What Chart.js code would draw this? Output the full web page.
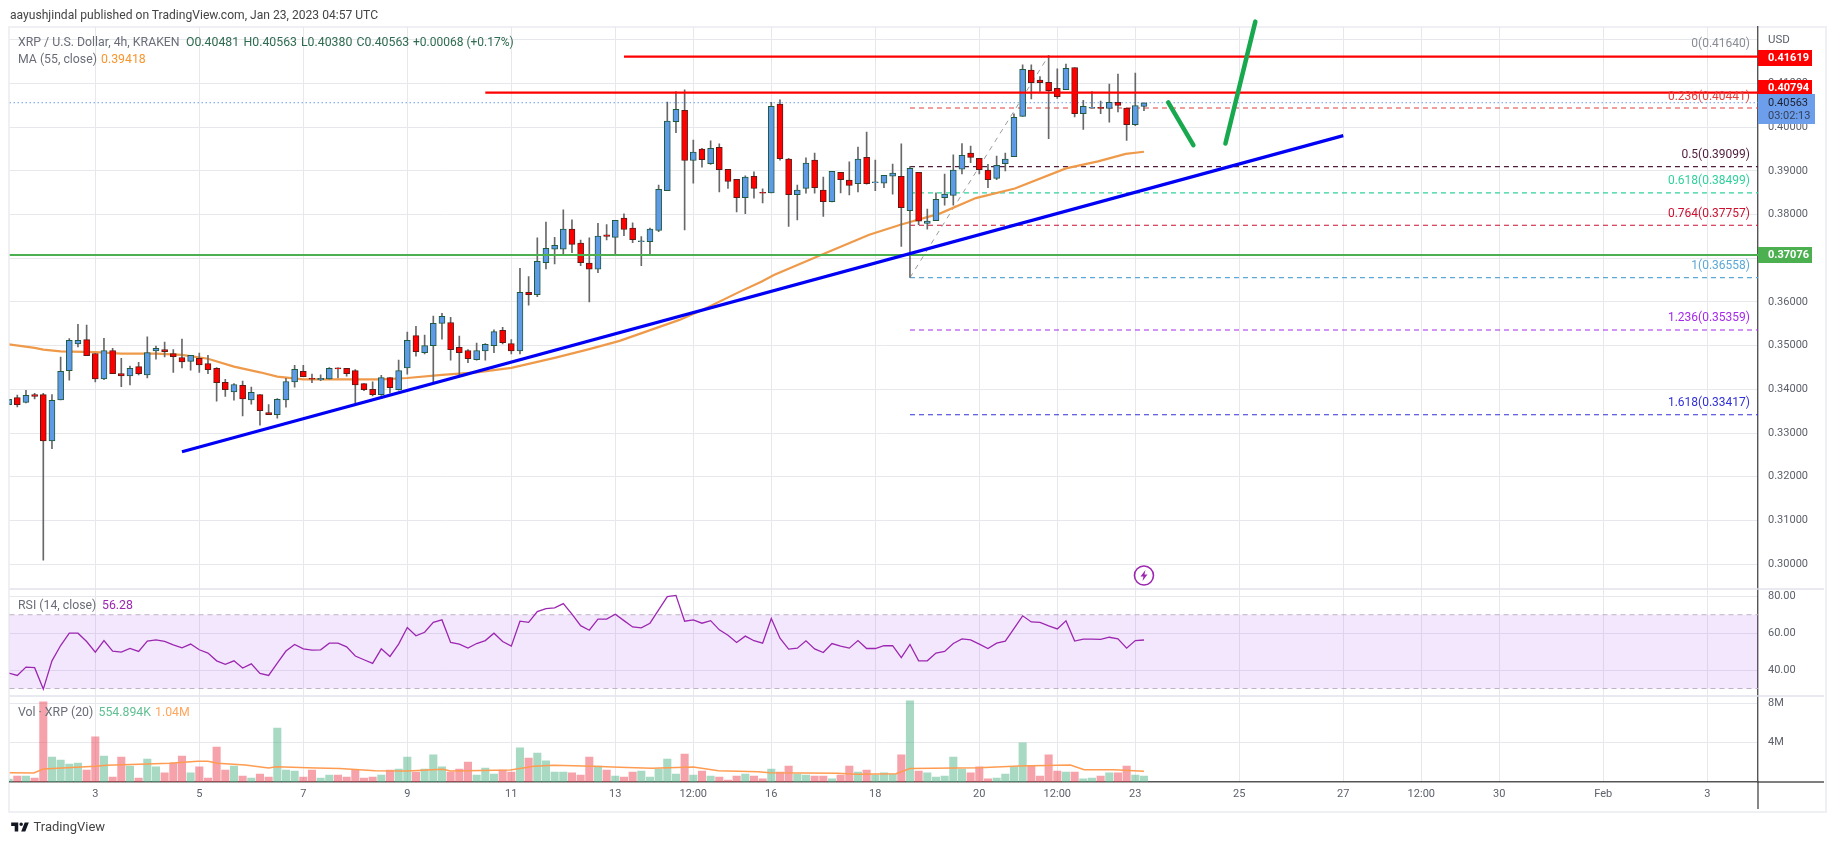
<!DOCTYPE html>
<html><head><meta charset="utf-8">
<style>
html,body{margin:0;padding:0;background:#fff;width:1834px;height:845px;overflow:hidden}
body{font-family:Roboto,"Liberation Sans",sans-serif}
#c{position:absolute;left:0;top:0}
#frame{position:absolute;left:8px;top:26px;width:1815px;height:783px;border:2px solid #eef0f4;box-sizing:content-box}
.t{position:absolute;white-space:nowrap;font-size:12.3px;line-height:14px;transform:translateY(-50%)}
</style></head><body>
<div id="frame"></div>
<canvas id="c" width="1834" height="845"></canvas>
<div class="t" style="left:10px;top:15px;color:#444;font-size:12.1px">aayushjindal published on TradingView.com, Jan 23, 2023 04:57 UTC</div>
<div class="t" style="left:18px;top:42px;color:#6a6d78">XRP / U.S. Dollar, 4h, KRAKEN</div>
<div class="t" style="left:186px;top:42px;color:#2f6b50">O0.40481</div>
<div class="t" style="left:243.5px;top:42px;color:#2f6b50">H0.40563</div>
<div class="t" style="left:301px;top:42px;color:#2f6b50">L0.40380</div>
<div class="t" style="left:356.5px;top:42px;color:#2f6b50">C0.40563</div>
<div class="t" style="left:413px;top:42px;color:#2f6b50;font-size:12px">+0.00068 (+0.17%)</div>
<div class="t" style="left:18px;top:59px;color:#6a6d78">MA (55, close)</div>
<div class="t" style="left:101px;top:59px;color:#f7962f">0.39418</div>
<div class="t" style="left:18px;top:605px;color:#6a6d78">RSI (14, close)</div>
<div class="t" style="left:102px;top:605px;color:#9c27b0">56.28</div>
<div class="t" style="left:18px;top:712px;color:#6a6d78">Vol · XRP (20)</div>
<div class="t" style="left:98.5px;top:712px;color:#5fbf92">554.894K</div>
<div class="t" style="left:155px;top:712px;color:#ffa65c">1.04M</div>
<svg style="position:absolute;left:10px;top:821px" width="20" height="12" viewBox="0 4 34 19"><path fill="#131722" d="M14 6H2v6h6v9h6V6Zm12 15h-7l6-15h7l-6 15Zm-7-9a3 3 0 1 0 0-6 3 3 0 0 0 0 6Z"/></svg>
<div class="t" style="left:33.5px;top:827px;color:#444;font-size:13px">TradingView</div>
<script src="https://cdn.jsdelivr.net/npm/chart.js@4"></script>
<script>
const firstBar = -10;
const opens = [
.3365,.3381,.3370,.3388,.3388,.3282,.3376,.3443,.3504,.3514,
.3482,.3424,.3489,.3436,.3431,.3452,.3433,.3488,.3491,.3482,
.3473,.3464,.3471,.3459,.3448,.3416,.3394,.3409,.3376,.3388,
.3347,.3342,.3376,.3417,.3441,.3425,.3422,.3424,.3449,.3448,
.3443,.3413,.3400,.3388,.3427,.3399,.3449,.3523,.3484,.3500,
.3551,.3553,.3496,.3489,.3468,.3488,.3500,.3535,.3505,.3488,
.3622,.3617,.3690,.3721,.3721,.3767,.3735,.3689,.3675,.3754,
.3748,.3792,.3769,.3738,.3738,.3764,.3855,.4013,.4039,.3924,
.3950,.3917,.3954,.3904,.3881,.3839,.3888,.3851,.3850,.4053,
.3927,.3846,.3860,.3925,.3856,.3830,.3897,.3879,.3871,.3931,
.3873,.3872,.3888,.3888,.3809,.3897,.3780,.3786,.3839,.3844,
.3904,.3941,.3929,.3902,.3883,.3917,.3933,.4025,.4131,.4108,
.4103,.4089,.4086,.4137,.4031,.4044,.4046,.4043,.4057,.4044,
.4006,.4048];
const highs = [
.3377,.3387,.3398,.3391,.3391,.3388,.3474,.3516,.3549,.3547,
.3482,.3517,.3494,.3471,.3453,.3462,.3520,.3499,.3508,.3491,
.3515,.3478,.3483,.3478,.3450,.3423,.3413,.3419,.3405,.3388,
.3365,.3379,.3425,.3455,.3455,.3435,.3433,.3450,.3449,.3448,
.3445,.3413,.3417,.3432,.3427,.3467,.3531,.3544,.3524,.3568,
.3574,.3565,.3522,.3491,.3506,.3505,.3536,.3542,.3514,.3677,
.3658,.3747,.3783,.3748,.3811,.3788,.3742,.3747,.3780,.3777,
.3787,.3802,.3781,.3750,.3769,.3868,.4058,.4082,.4086,.3971,
.3952,.3969,.3962,.3904,.3881,.3889,.3898,.3859,.4057,.4063,
.3929,.3868,.3930,.3941,.3886,.3899,.3897,.3921,.3955,.3989,
.3925,.3890,.3916,.3962,.3910,.3897,.3813,.3850,.3893,.3937,
.3963,.3957,.3929,.3915,.3934,.3941,.4031,.4143,.4143,.4116,
.4164,.4134,.4145,.4137,.4062,.4082,.4060,.4099,.4122,.4044,
.4124,.4056];
const lows = [
.3365,.3360,.3369,.3378,.3009,.3264,.3376,.3421,.3497,.3477,
.3417,.3422,.3436,.3406,.3410,.3433,.3426,.3469,.3474,.3439,
.3449,.3444,.3439,.3436,.3373,.3384,.3375,.3339,.3366,.3318,
.3342,.3334,.3359,.3405,.3429,.3415,.3420,.3423,.3426,.3430,
.3368,.3397,.3385,.3386,.3391,.3398,.3435,.3476,.3481,.3415,
.3515,.3467,.3429,.3461,.3467,.3467,.3484,.3504,.3481,.3481,
.3593,.3612,.3676,.3687,.3708,.3713,.3683,.3600,.3667,.3742,
.3708,.3752,.3736,.3683,.3708,.3761,.3855,.3988,.3765,.3872,
.3909,.3915,.3852,.3860,.3806,.3802,.3838,.3827,.3850,.3925,
.3773,.3788,.3849,.3849,.3796,.3829,.3850,.3845,.3852,.3870,
.3855,.3862,.3847,.3727,.3656,.3777,.3767,.3786,.3822,.3822,
.3893,.3919,.3893,.3862,.3880,.3900,.3933,.4025,.4065,.4082,
.3974,.4066,.4086,.4024,.3995,.4044,.4031,.4012,.4035,.3970,
.4004,.4038];
const closes = [
.3377,.3365,.3386,.3384,.3282,.3375,.3441,.3512,.3512,.3477,
.3424,.3489,.3436,.3431,.3448,.3436,.3484,.3494,.3486,.3475,
.3463,.3478,.3456,.3445,.3415,.3399,.3411,.3378,.3393,.3351,
.3342,.3377,.3418,.3446,.3429,.3423,.3425,.3448,.3447,.3436,
.3410,.3399,.3388,.3427,.3404,.3443,.3512,.3486,.3500,.3551,
.3567,.3491,.3484,.3470,.3489,.3503,.3532,.3507,.3488,.3622,
.3617,.3693,.3723,.3730,.3767,.3732,.3690,.3675,.3751,.3750,
.3787,.3766,.3743,.3740,.3767,.3858,.4014,.4041,.3924,.3943,
.3926,.3952,.3903,.3876,.3839,.3886,.3860,.3849,.4048,.3928,
.3846,.3856,.3918,.3862,.3830,.3899,.3880,.3867,.3927,.3871,
.3875,.3890,.3895,.3816,.3906,.3785,.3785,.3835,.3847,.3902,
.3936,.3931,.3903,.3880,.3913,.3927,.4023,.4133,.4102,.4102,
.4084,.4070,.4135,.4031,.4048,.4046,.4043,.4057,.4050,.4006,
.4050,.4056];
const rsiValues = [
38.4,37.1,41.6,41.3,29.7,45.0,53.3,60,60,55.5,
49.7,56,50.3,49.7,51.7,50.1,55.7,56.4,55.5,53.7,
52.1,54.1,51,49.2,45,43.1,45,41.1,43.4,38.2,
37.1,43.8,50.3,53.9,51.5,50.8,51,54.6,54.6,52.6,
47.6,45.6,43.6,51.5,47.4,54.1,63.1,58.6,60.5,65.9,
67.2,55,54.1,51.9,54.4,56,60,55.5,53,66.5,
65.9,71.7,73.3,73.7,76,70.3,64.1,61.6,67.6,67.6,
70.3,66.8,63.4,62.9,65.4,72.6,79.8,80.5,66.5,67.2,
65.4,66.8,61.8,58.9,55,58.4,55.9,54.6,67.9,57.3,
51.4,51.9,55.9,51.5,49.5,54.4,53,51.9,56,51.7,
51.7,53.2,53.3,46.7,53.9,45,45,49.2,50.1,54.4,
56.9,56.4,54.1,51.7,54.6,55.7,62.5,69.4,66.1,65.9,
64,62.3,66.7,55.7,56.8,56.8,56.6,57.8,56.9,51.9,
56,56.3];
const volumes = [
.3,.61,.61,.41,8.14,2.54,2.24,1.83,1.93,1.22,
4.58,2.64,.51,2.54,1.63,.41,2.34,1.53,.92,1.93,
2.64,.92,1.53,.41,3.56,1.22,1.63,.61,.41,.81,
.51,5.49,1.22,1.12,.51,1.22,.41,.71,.71,.51,
1.29,.41,.51,.71,1.22,1.32,2.54,1.02,1.32,2.75,
1.53,1.02,1.32,2.03,.71,1.42,.81,1.22,1.02,3.46,
2.44,2.95,2.14,1.02,1.02,.92,.71,2.54,1.63,1.22,
.61,.51,1.02,1.12,.51,1.32,2.34,.81,2.85,.71,
1.12,.61,.51,.2,.61,.81,.61,.31,1.32,1.02,
1.63,.81,.71,.61,.61,.31,.71,1.63,1.02,1.22,
.71,.92,.81,2.75,8.24,1.12,.92,.51,.61,2.54,
1.32,.92,1.53,.31,.41,.81,1.53,3.97,1.63,.61,
2.75,1.12,1.02,1.02,.31,.41,.61,.92,.92,1.63,
.71,.61];
const maBars = [-10,-7,-6,-4,0,3,7,10,13,16,19,21,24,30,33,36,40,44,48,53,57,60.5,67.4,70.1,74.2,76.9,78.3,83.8,89.3,92.9,97.5,101.6,106.1,112,115.7,118.9,121];
const maValues = [.3503,.3495,.3491,.3487,.3485,.3482,.3482,.3479,.3470,.3452,.3439,.3429,.3423,.3423,.3423,.3426,.3433,.3439,.3449,.3472,.3492,.3511,.3559,.3582,.3622,.3647,.3662,.3708,.3754,.3777,.3803,.3838,.3860,.3906,.3922,.3939,.3944];
const volMaBars = [-9.9,-7.1,-6,0,1.3,5,8.6,11.8,13,14.1,17.3,20,20.9,25.5,28.2,32.3,36,40.1,41,47.9,50.6,52.9,57.4,60.5,64.2,69,71.9,76.5,77.8,85.6,87.9,92.4,94,102,106.6,112.5,114.1,117.5,121];
const volMaValues = [.95,.92,1.32,1.59,1.69,1.8,1.9,2.1,2.1,1.9,1.73,1.42,1.56,1.42,1.36,1.15,1.12,1.29,1.12,1.22,1.59,1.69,1.59,1.49,1.39,1.53,1.15,1.05,.95,.88,.78,.85,1.36,1.46,1.63,1.73,1.25,1.25,1.1];
const xTickBars = [0,12,24,36,48,60,69,78,90,102,111,120,132,144,153,162,174,186];
const xTickLabels = ["3","5","7","9","11","13","12:00","16","18","20","12:00","23","25","27","12:00","30","Feb","3"];
const priceTicks = [.30,.31,.32,.33,.34,.35,.36,.37,.38,.39,.40,.41,.42];
const rsiTicks = [40,60,80];
const volTicks = [4,8];
const xMin = -9.9, xMax = 191.85;
const trendBars = [10,144], trendPrices = [.3257,.3981];
const arrowDownBars = [123.8,126.7], arrowDownPrices = [.4057,.3959];
const arrowUpBars = [130.4,133.85], arrowUpPrices = [.3963,.4242];
const resist1 = .41619, resist1Start = 61, resist2 = .40794, resist2Start = 45;
const support = .37076, lastPrice = .40563;
const fibStart = 94, fibEndDiag = 110;
const fibLevels = [
 ["0(0.41640)",.41640,"#8a8d96"],["0.236(0.40441)",.40441,"#e0403f"],
 ["0.5(0.39099)",.39099,"#4f1c3c"],["0.618(0.38499)",.38499,"#2fd29c"],
 ["0.764(0.37757)",.37757,"#cc1030"],["1(0.36558)",.36558,"#5ba8d8"],
 ["1.236(0.35359)",.35359,"#a428ea"],["1.618(0.33417)",.33417,"#3030d8"]];
// each tag: text, price, colour, offset of the box top above the price line
const priceTags = [["0.41619",.41619,"#ff0000",7],["0.40794",.40794,"#ff0000",13],["0.37076",.37076,"#4caf50",8]];

const barIdx = opens.map((_,i)=>firstBar+i);
const pts = (xs,ys)=>xs.map((x,i)=>({x,y:ys[i]}));
const line = (xs,ys,color,width,order,extra={})=>Object.assign({type:'line',data:pts(xs,ys),borderColor:color,borderWidth:width,pointRadius:0,tension:0,order,yAxisID:'y'},extra);
const isUp = i=>closes[i]>=opens[i];

// the 0 level sits under the upper resistance line, so only its label shows
const fibDatasets = fibLevels.slice(1).map(f=>line([fibStart,xMax],[f[1],f[1]],f[2],1.1,9,{borderDash:[5,4]}));

const datasets = [
 ...fibDatasets,
 line([xMin,xMax],[lastPrice,lastPrice],'#6aa0ee',1,9,{borderDash:[1.5,2.5]}),
 line([fibStart,fibEndDiag],[fibLevels[5][1],fibLevels[0][1]],'#9a9a9a',1,9,{borderDash:[5,5]}),
 line(maBars,maValues,'#ef9a4a',2.2,8),
 {type:'bar',grouped:false,order:7,yAxisID:'y',barThickness:1,backgroundColor:'#686868',
  data:barIdx.map((x,i)=>({x,y:[lows[i],highs[i]]}))},
 {type:'bar',grouped:false,order:6,yAxisID:'y',barThickness:6,borderWidth:1,borderSkipped:false,
  backgroundColor:barIdx.map((_,i)=>isUp(i)?'#5f9ae6':'#ff0000'),
  borderColor:barIdx.map((_,i)=>isUp(i)?'#1f5a40':'#5e1a14'),
  data:barIdx.map((x,i)=>({x,y:[opens[i],closes[i]]}))},
 line([xMin,xMax],[support,support],'#4caf50',2.2,4),
 line([resist2Start,xMax],[resist2,resist2],'#ff0000',2.2,4),
 line([resist1Start,xMax],[resist1,resist1],'#ff0000',2.2,4),
 line(trendBars,trendPrices,'#0000f5',3.2,3),
 line(arrowDownBars,arrowDownPrices,'#18a84e',4.5,2,{borderCapStyle:'round',clip:false}),
 line(arrowUpBars,arrowUpPrices,'#18a84e',4.5,2,{borderCapStyle:'round',clip:false}),
 line(barIdx,rsiValues,'#9c27b0',1.3,5,{yAxisID:'yRsi'}),
 {type:'bar',grouped:false,order:6,yAxisID:'yVol',barThickness:7.4,
  backgroundColor:barIdx.map((_,i)=>isUp(i)?'rgba(80,180,135,.5)':'rgba(235,70,85,.5)'),
  data:barIdx.map((x,i)=>({x,y:volumes[i]}))},
 line(volMaBars,volMaValues,'#ff9c52',1.5,5,{yAxisID:'yVol'})
];

const gridColor='#e7e8ec', labelColor='#5d606b', axisColor='#555';
const tickFont={family:'Roboto,"Liberation Sans",sans-serif',size:11};
const yCommon=(w,ticks,cb,min,max)=>({
 position:'right',stack:'side',stackWeight:w,min,max,
 grid:{color:gridColor,drawTicks:false,lineWidth:1},
 border:{color:axisColor,width:1.4},
 afterBuildTicks:s=>{s.ticks=ticks.map(value=>({value}))},
 afterFit:s=>{s.width=66},
 ticks:{color:labelColor,font:tickFont,padding:10,callback:cb,autoSkip:false}
});

const overlay={id:'overlay',
 beforeDatasetsDraw(ch){
  const c=ch.ctx,a=ch.chartArea,r=ch.scales.yRsi;
  const y70=r.getPixelForValue(70),y30=r.getPixelForValue(30);
  c.save();
  c.fillStyle='rgba(155,60,235,.12)';c.fillRect(a.left,y70,a.right-a.left,y30-y70);
  c.strokeStyle='#bdb2c4';c.lineWidth=1;c.setLineDash([5,4]);
  [y70,y30].forEach(y=>{c.beginPath();c.moveTo(a.left,y);c.lineTo(a.right,y);c.stroke()});
  c.restore();
 },
 afterDraw(ch){
  const c=ch.ctx,a=ch.chartArea,m=ch.scales.y,x=ch.scales.x,r=ch.scales.yRsi;
  c.save();
  c.strokeStyle='#e2e3ec';c.lineWidth=1.4;
  [m.bottom,r.bottom].forEach(y=>{c.beginPath();c.moveTo(a.left,y);c.lineTo(a.right+66,y);c.stroke()});
  c.strokeStyle=axisColor;c.lineWidth=1.4;
  c.beginPath();c.moveTo(a.right,a.bottom);c.lineTo(a.right,a.bottom+27);
  c.moveTo(a.right,a.bottom);c.lineTo(a.right+66,a.bottom);c.stroke();
  c.font='12px Roboto,"Liberation Sans",sans-serif';c.textAlign='right';c.textBaseline='middle';
  fibLevels.forEach(f=>{c.fillStyle=f[2];c.fillText(f[0],a.right-8,m.getPixelForValue(f[1])-11.5)});
  c.textAlign='left';
  c.fillStyle=labelColor;c.font='11.5px Roboto,"Liberation Sans",sans-serif';c.fillText('USD',a.right+10,40);
  c.font='bold 11px Roboto,"Liberation Sans",sans-serif';
  priceTags.forEach(t=>{
   const top=Math.round(m.getPixelForValue(t[1]))-t[3];
   c.fillStyle=t[2];c.fillRect(a.right,top,54,16);
   c.fillStyle='#fff';c.fillText(t[0],a.right+10,top+8.5);
  });
  c.fillStyle='#6d9eeb';c.fillRect(a.right,94,57,30);
  c.font='11px Roboto,"Liberation Sans",sans-serif';
  c.fillStyle='#1c2030';c.fillText('0.40563',a.right+10,103);
  c.fillStyle='#33405a';c.fillText('03:02:13',a.right+10,116);
  const lx=x.getPixelForValue(121),ly=575.5;
  c.strokeStyle='#9c27b0';c.lineWidth=1.6;c.beginPath();c.arc(lx,ly,9.5,0,Math.PI*2);c.stroke();
  c.fillStyle='#9c27b0';c.beginPath();
  c.moveTo(lx+1.5,ly-5.5);c.lineTo(lx-3.5,ly+1);c.lineTo(lx-.5,ly+1);c.lineTo(lx-1.5,ly+5.5);c.lineTo(lx+3.5,ly-1);c.lineTo(lx+.5,ly-1);c.closePath();c.fill();
  c.restore();
 }};

new Chart(document.getElementById('c'),{
 type:'bar',
 data:{datasets},
 plugins:[overlay],
 options:{
  responsive:false,animation:false,devicePixelRatio:1,
  events:[],
  layout:{padding:{left:9.5,top:27,right:10,bottom:36}},
  plugins:{legend:{display:false},tooltip:{enabled:false},title:{display:false}},
  scales:{
   x:{type:'linear',min:xMin,max:xMax,position:'bottom',
      offset:false,
      grid:{color:gridColor,drawTicks:false,lineWidth:1,offset:false},
      border:{color:axisColor,width:1.4},
      afterBuildTicks:s=>{s.ticks=xTickBars.map(value=>({value}))},
      afterFit:s=>{s.height=27},
      ticks:{color:labelColor,font:tickFont,padding:6,autoSkip:false,maxRotation:0,
        callback:v=>{const k=xTickBars.indexOf(v);return k<0?'':xTickLabels[k]}}},
   y:Object.assign(yCommon(562,priceTicks,v=>v>.415?'':v.toFixed(5),.29428,.42297),{weight:0}),
   yRsi:Object.assign(yCommon(107,rsiTicks,v=>v.toFixed(2),25.95,83.95),{weight:1}),
   yVol:Object.assign(yCommon(86,volTicks,v=>v+'M',0,8.74),{weight:2})
  }
 }
});
</script>
</body></html>
